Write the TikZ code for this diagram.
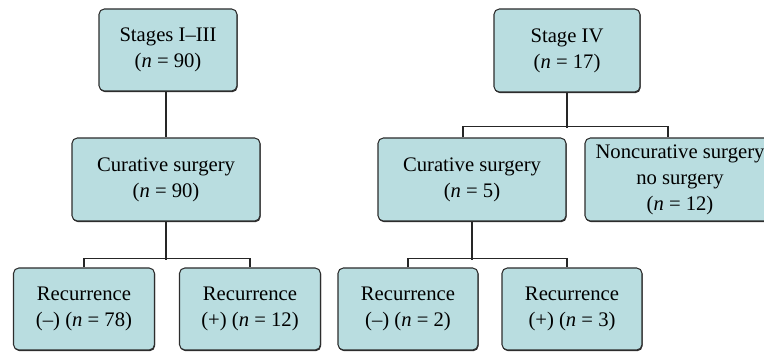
\documentclass[tikz,border=0pt]{standalone}
\usepackage{fontspec}
\setmainfont{Liberation Serif}
\usetikzlibrary{shadows}

\definecolor{boxfill}{RGB}{185,221,224}
\definecolor{boxline}{RGB}{45,45,45}

\tikzset{
  stagebox/.style={draw=boxline, fill=boxfill, line width=0.8pt, rounded corners=4pt,
    align=center, inner sep=0pt, font=\fontsize{15.5}{19.5}\selectfont,
    drop shadow={shadow xshift=0.5pt, shadow yshift=-0.9pt, opacity=1, fill=boxline}},
  link/.style={line width=0.8pt, draw=black!85}
}

\begin{document}
\begin{tikzpicture}[x=0.75pt,y=0.75pt,yscale=-1,xscale=1]
	\clip (0,0) rectangle (764,352); %set diagram size 764 x 352
	
	% Left tree
	\node [stagebox, minimum width=103.5pt, minimum height=61.5pt] (stagesI) at (168,50) {Stages I--III\\(\textit{n} = 90)};
	\node [stagebox, minimum width=141pt, minimum height=62.25pt] (curL) at (166,179.5) {Curative surgery\\(\textit{n} = 90)};
	\node [stagebox, minimum width=105.75pt, minimum height=61.5pt] (recLm) at (84,309) {Recurrence\\(--) (\textit{n} = 78)};
	\node [stagebox, minimum width=105.75pt, minimum height=61.5pt] (recLp) at (250,309) {Recurrence\\(+) (\textit{n} = 12)};
	
	% Right tree
	\node [stagebox, minimum width=109.5pt, minimum height=62.25pt] (stageIV) at (567,50.5) {Stage IV\\(\textit{n} = 17)};
	\node [stagebox, minimum width=141pt, minimum height=62.25pt] (curR) at (472,179.5) {Curative surgery\\(\textit{n} = 5)};
	\node [stagebox, minimum width=142.5pt, minimum height=62.25pt] (noncur) at (680,179.5) {Noncurative surgery\\no surgery\\(\textit{n} = 12)};
	\node [stagebox, minimum width=105pt, minimum height=61.5pt] (recRm) at (408,309) {Recurrence\\(--) (\textit{n} = 2)};
	\node [stagebox, minimum width=105pt, minimum height=61.5pt] (recRp) at (572,309) {Recurrence\\(+) (\textit{n} = 3)};
	
	% Straight Lines
	\draw [link] (stagesI.south -| curL.north) -- (curL.north) ;
	\draw [link] (curL.south) -- ++(0,38) ;
	\draw [link] (recLm.north) -- ++(0,-9) -| (recLp.north) ;
	
	\draw [link] (stageIV.south) -- ++(0,35) ;
	\draw [link] ([xshift=-6.75pt]curR.north) -- ++(0,-11) -| ([xshift=-9pt]noncur.north) ;
	\draw [link] (curR.south) -- ++(0,38) ;
	\draw [link] (recRm.north) -- ++(0,-9) -| ([xshift=-3.75pt]recRp.north) ;
\end{tikzpicture}
\end{document}
